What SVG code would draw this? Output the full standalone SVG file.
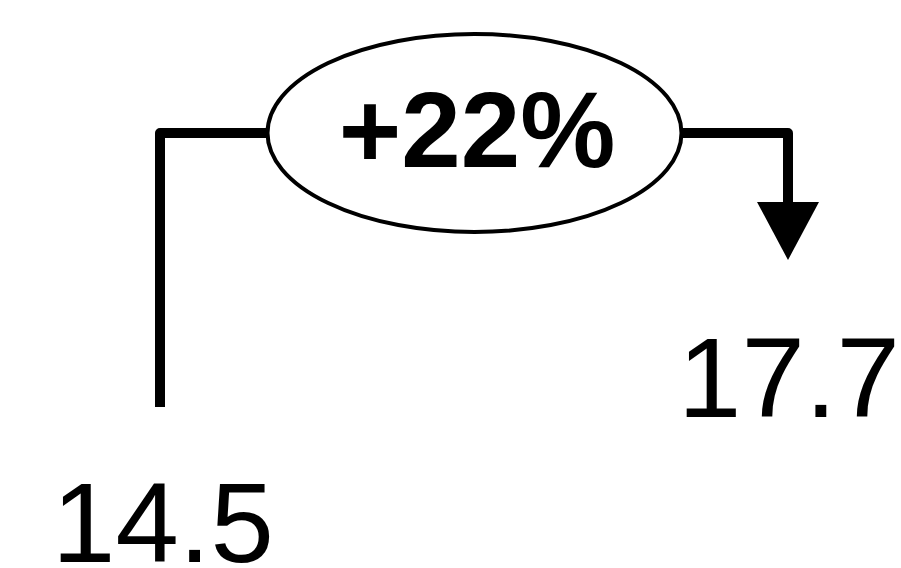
<svg xmlns="http://www.w3.org/2000/svg" width="901" height="568" viewBox="0 0 901 568">
  <style>
    .wire { fill: none; stroke: #000; stroke-width: 10; stroke-linejoin: round; }
    .head { fill: #000; }
    .badge { fill: #fff; stroke: #000; stroke-width: 4; }
    .pct { font-family: "Liberation Sans", Arial, sans-serif; font-weight: bold; font-size: 107px; fill: #000; text-anchor: middle; }
    .val { font-family: "Liberation Sans", Arial, sans-serif; font-size: 114px; fill: #000; }
  </style>

  <g id="connectors">
    <!-- from the start value up and across into the badge -->
    <path class="wire" d="M160,407 L160,133 L268,133"/>
    <!-- out of the badge, across and down to the end value -->
    <path class="wire" d="M681,133 L788,133 L788,202"/>
    <path class="head" d="M757,202 L819,202 L788,260 Z"/>
  </g>

  <g id="change">
    <ellipse class="badge" cx="474.5" cy="133" rx="207" ry="99"/>
    <text class="pct" x="477" y="167">+22%</text>
  </g>

  <g id="start">
    <text class="val" x="163" y="562" text-anchor="middle">14.5</text>
  </g>

  <g id="end">
    <text class="val" x="900" y="417" text-anchor="end">17.7</text>
  </g>
</svg>
